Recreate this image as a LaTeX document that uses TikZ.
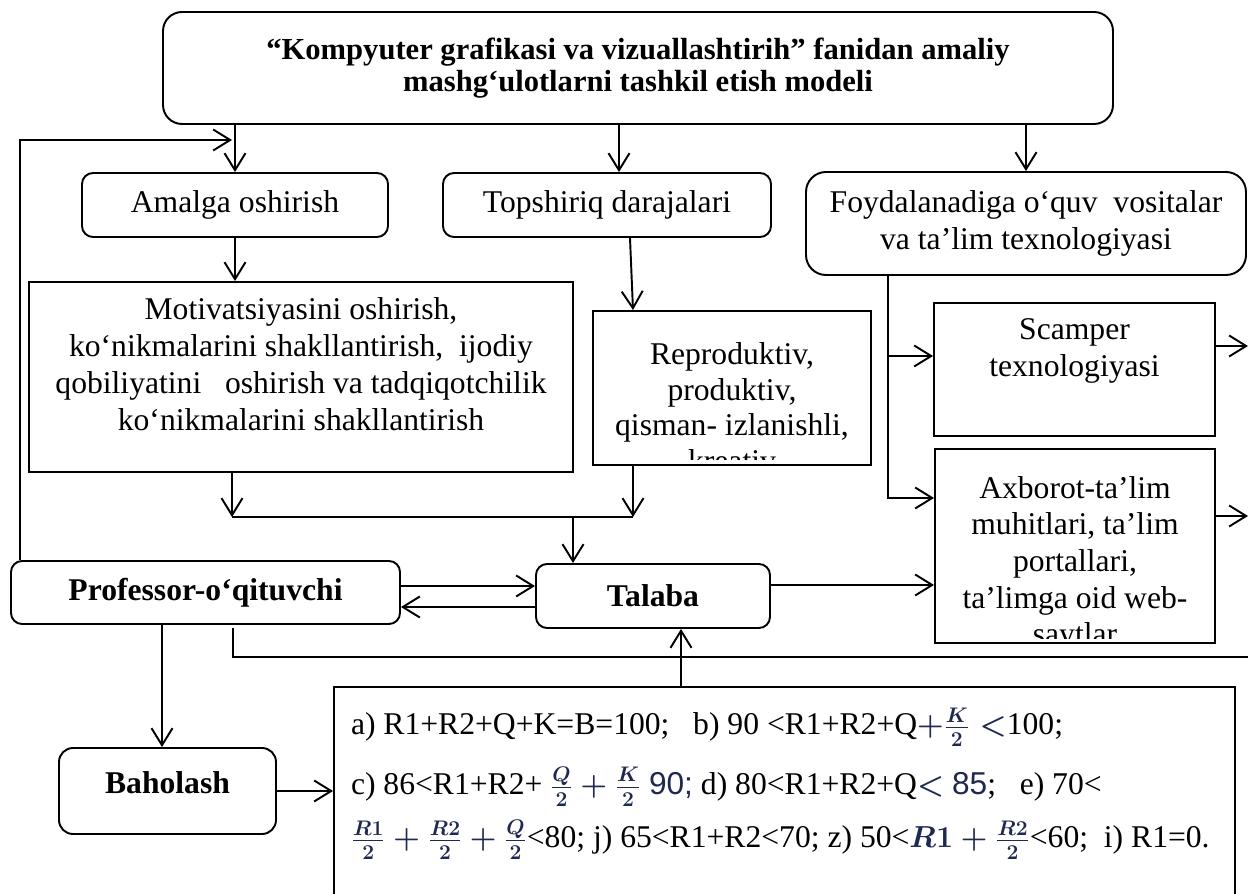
\documentclass[tikz,border=0pt]{standalone}
\usepackage{fontspec}
\setmainfont{Liberation Serif}
\newfontfamily\mathdigits{Liberation Sans}
\usepackage{xcolor}
\usepackage{amsmath}
\usetikzlibrary{arrows.meta,positioning}
\definecolor{mathnavy}{RGB}{30,40,80}

\begin{document}
\begin{tikzpicture}[
    every node/.style={font=\fontsize{18}{20.9}\selectfont},
    block/.style={rectangle, draw, line width=1.1pt, rounded corners=0.22cm, inner sep=0pt, align=center},
    panel/.style={rectangle, draw, line width=1.1pt, inner sep=0pt},
    strong/.style={font=\fontsize{18}{20.9}\selectfont\bfseries},
    arrow/.style={-{Straight Barb[length=0.34cm, width=0.42cm]}, line width=1.1pt},
    link/.style={line width=1.1pt}
]
\useasboundingbox (0,0) rectangle (24.96,-17.88);

% Model
\node[block, rounded corners=0.38cm, minimum width=19cm, minimum height=2.24cm, font=\fontsize{17.4}{18.4}\selectfont\bfseries] (model) at (12.76,-1.36) {“Kompyuter grafikasi va vizuallashtirih” fanidan amaliy\\mashg‘ulotlarni tashkil etish modeli};

% Second level
\node[block, minimum width=6.12cm, minimum height=1.28cm] (amalga) at (4.70,-4.10) {Amalga oshirish};
\node[block, minimum width=6.56cm, minimum height=1.28cm] (topshiriq) at (12.14,-4.10) {Topshiriq darajalari};
\node[block, rounded corners=0.4cm, minimum width=8.8cm, minimum height=2.06cm] (vosita) at (20.52,-4.47) {Foydalanadiga o‘quv\ \ vositalar\\va ta’lim texnologiyasi};

% Content boxes
\node[panel, minimum width=10.88cm, minimum height=3.8cm] (motiv) at (6.02,-7.54) {\parbox[c][3.8cm][t]{10.88cm}{\centering\vspace{0.32cm}Motivatsiyasini oshirish,\\ko‘nikmalarini shakllantirish,\ \ ijodiy\\qobiliyatini\ \ \ oshirish va tadqiqotchilik\\ko‘nikmalarini shakllantirish}};
\node[panel, minimum width=5.56cm, minimum height=3.08cm,
    path picture={
        \clip (path picture bounding box.north west) rectangle ([yshift=0.1cm]path picture bounding box.south east);
        \node[anchor=north, inner sep=0pt, align=center, font=\fontsize{18}{20.2}\selectfont] (reprodtext) at ([yshift=-0.36cm]path picture bounding box.north) {Reproduktiv,\\produktiv,\\qisman- izlanishli,\\kreativ};
    }] (reprod) at (14.64,-7.76) {};
\node[panel, minimum width=5.62cm, minimum height=2.66cm] (scamper) at (21.49,-7.39) {\parbox[c][2.66cm][t]{5.62cm}{\centering\vspace{0.32cm}Scamper\\texnologiyasi}};
\node[panel, minimum width=5.6cm, minimum height=3.88cm,
    path picture={
        \clip (path picture bounding box.north west) rectangle ([yshift=0.08cm]path picture bounding box.south east);
        \node[anchor=north, inner sep=0pt, align=center] (axborottext) at ([yshift=-0.34cm]path picture bounding box.north) {Axborot-ta’lim\\muhitlari, ta’lim\\portallari,\\ta’limga oid web-\\saytlar};
    }] (axborot) at (21.50,-10.92) {};

% Participants
\node[block, strong, minimum width=7.78cm, minimum height=1.26cm] (prof) at (4.11,-11.85) {Professor-o‘qituvchi};
\node[block, strong, minimum width=4.68cm, minimum height=1.28cm] (talaba) at (13.06,-11.92) {Talaba};
\node[block, strong, rounded corners=0.28cm, minimum width=4.34cm, minimum height=1.72cm, text depth=0.34cm] (baholash) at (3.35,-15.82) {Baholash};

% Criteria
\node[panel, minimum width=18.02cm, minimum height=4.36cm] (mezon) at (15.69,-15.92) {\parbox[c][4.36cm][t]{18.02cm}{\raggedright\leftskip=0.34cm\lineskiplimit=-10cm\boldmath
\vspace{0.26cm}\rule{0pt}{0.7cm}a) R1+R2+Q+K=B=100;\ \ \ b) 90 <R1+R2+Q\textcolor{mathnavy}{$+\frac{K}{2}<$}100;\\[0.46cm]
c) 86<R1+R2+ \textcolor{mathnavy}{$\frac{Q}{2}+\frac{K}{2}$ {\mathdigits 90;}} d) 80<R1+R2+Q\textcolor{mathnavy}{$<$ {\mathdigits 85}};\ \ \ e) 70<\\[0.33cm]
\textcolor{mathnavy}{$\frac{R1}{2}+\frac{R2}{2}+\frac{Q}{2}$}<80; j) 65<R1+R2<70; z) 50<\textcolor{mathnavy}{$R1+\frac{R2}{2}$}<60;\ \ i) R1=0.}};

% Connections
\coordinate (feedback) at (4.64,-2.80);
\coordinate (joinL) at (4.64,-10.34);
\coordinate (joinR) at (12.66,-10.34);
\coordinate (branch) at (17.76,-7.12);
\coordinate (scamperout) at (24.96,-6.92);
\coordinate (axborotout) at (24.96,-10.32);
\coordinate (loopend) at (24.96,-13.14);

\draw[arrow] (model.south -| amalga.north) -- (amalga.north);
\draw[arrow] ([xshift=0.24cm]topshiriq.north |- model.south) -- ([xshift=0.24cm]topshiriq.north);
\draw[arrow] (model.south -| vosita.north) -- (vosita.north);
\draw[arrow] ([xshift=0.2cm]prof.north west) |- (feedback);

\draw[arrow] (amalga.south) -- (amalga.south |- motiv.north);
\draw[arrow] ([xshift=0.46cm]topshiriq.south) -- ([xshift=-1.98cm]reprod.north);
\draw[arrow] (motiv.south -| joinL) -- (joinL);
\draw[arrow] (reprod.south -| joinR) -- (joinR);
\draw[link] (joinL) -- (joinR);
\draw[arrow] ([xshift=-1.6cm]talaba.north |- joinL) -- ([xshift=-1.6cm]talaba.north);

\draw[arrow] ([xshift=-2.76cm]vosita.south) |- ([yshift=0.96cm]axborot.west);
\draw[arrow] (branch) -- (branch -| scamper.west);
\draw[arrow] (scamper.east |- scamperout) -- (scamperout);
\draw[arrow] (axborot.east |- axborotout) -- (axborotout);

\draw[arrow] ([yshift=0.22cm]talaba.east) -- ([yshift=0.22cm]talaba.east -| axborot.west);
\draw[arrow] ([yshift=0.2cm]talaba.west -| prof.east) -- ([yshift=0.2cm]talaba.west);
\draw[arrow] ([yshift=-0.22cm]talaba.west) -- ([yshift=-0.22cm]talaba.west -| prof.east);

\draw[arrow] ([xshift=-0.87cm]prof.south) -- ([xshift=-0.87cm]prof.south |- baholash.north);
\draw[arrow] (baholash.east) -- (baholash.east -| mezon.west);
\draw[link] ([xshift=0.55cm,yshift=-0.06cm]prof.south) |- (loopend);
\draw[arrow] ([xshift=0.56cm]talaba.south |- mezon.north) -- ([xshift=0.56cm]talaba.south);

\end{tikzpicture}
\end{document}
